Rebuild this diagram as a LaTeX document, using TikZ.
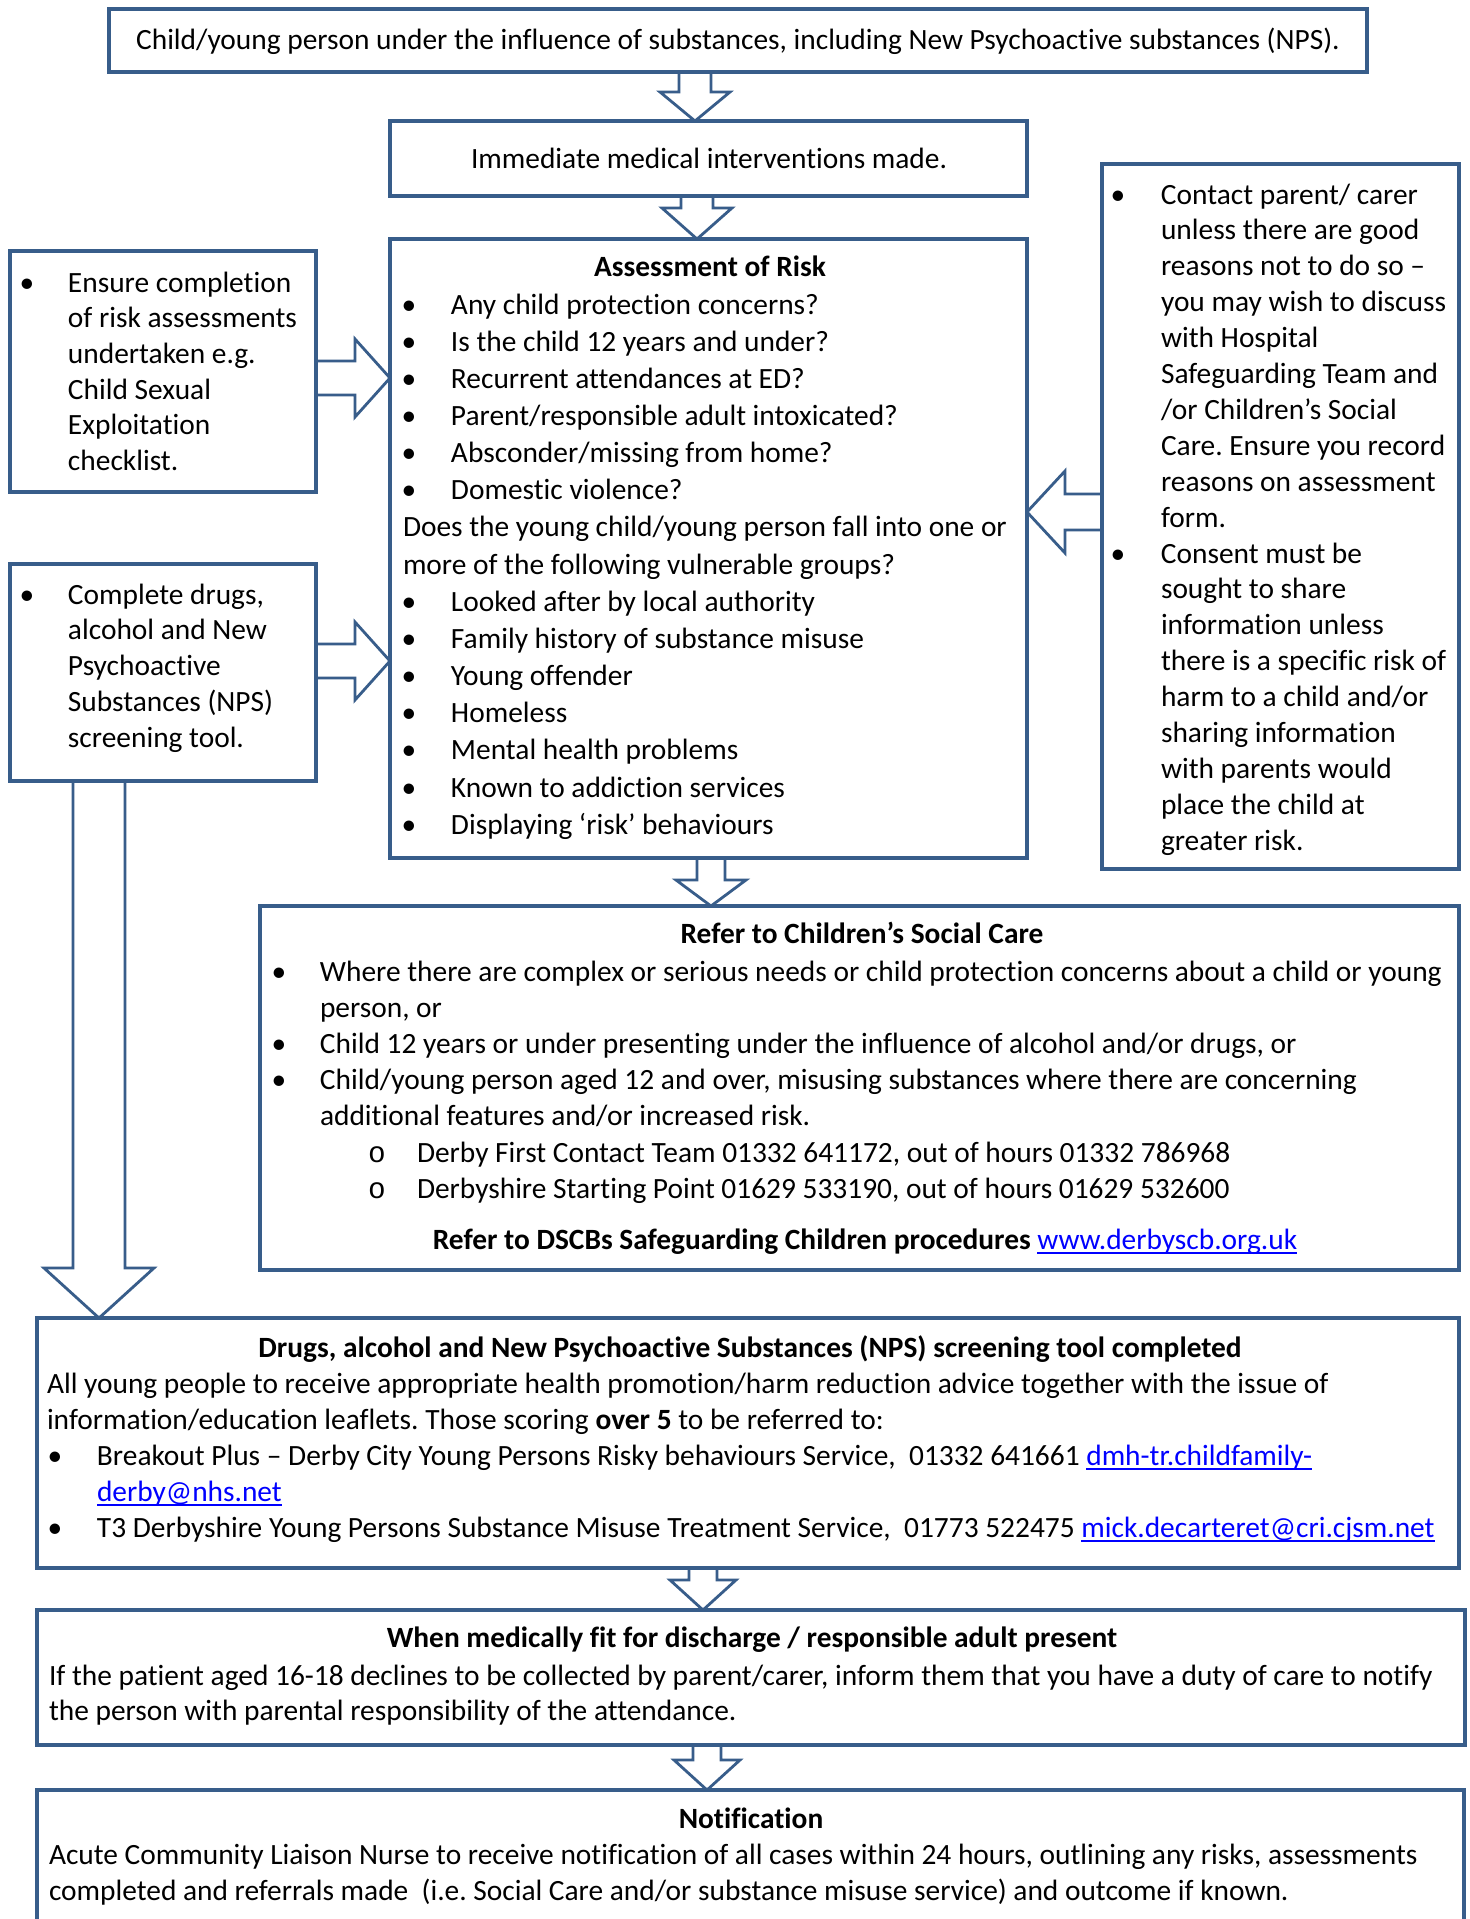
\documentclass[tikz,border=0pt]{standalone}
\usepackage{fontspec}
\setmainfont{Carlito}[Ligatures=NoCommon]
\newfontfamily\monof{Liberation Mono}
\usetikzlibrary{fit,calc}
\definecolor{bord}{RGB}{56,93,138}
\definecolor{lnk}{RGB}{0,0,255}
\frenchspacing
\newlength\bi
\newlength\bc
\newcommand\fsz{14.7}
\newcommand\bul[1]{\makebox[\bi][l]{\hspace{\bc}\makebox[0pt]{\textbullet}}#1}
\newcommand\cont[1]{\makebox[\bi][l]{}#1}
\newcommand\subl[1]{\makebox[71.5pt][l]{\hspace{51.5pt}\makebox[0pt]{\monof o}}#1}
\newcommand\ulnk[1]{{\color{lnk}\setbox0=\hbox{#1}\rlap{\rule[-2.3pt]{\wd0}{0.8pt}}\box0}}
\newcommand\tlines[2]{\parbox[t]{720pt}{\fontsize{\fsz}{#1}\selectfont\raggedright #2}}
\pgfdeclarelayer{bg}
\pgfsetlayers{bg,main}
\tikzset{
  boxn/.style={draw=bord, line width=2pt, fill=white, inner sep=0pt, outer sep=0pt},
  barrow/.style={draw=bord, line width=1.4pt, fill=white, line join=miter},
  txt/.style={anchor=base west, inner sep=0pt, outer sep=0pt, font=\fontsize{\fsz}{18}\selectfont},
  ttl/.style={anchor=base, inner sep=0pt, outer sep=0pt, font=\fontsize{\fsz}{18}\selectfont\bfseries},
}
% down block arrow: src, dst, cx, shaft half, head half, head length (px)
\newcommand\bardown[6]{%
 \draw[barrow] let \p1=(#1.south), \p2=(#2.north), \p3=(#3,0) in
 ({\x3-#4*0.5pt},\y1) -- ({\x3-#4*0.5pt},{\y2+#6*0.5pt}) -- ({\x3-#5*0.5pt},{\y2+#6*0.5pt}) -- (\x3,\y2) -- ({\x3+#5*0.5pt},{\y2+#6*0.5pt}) -- ({\x3+#4*0.5pt},{\y2+#6*0.5pt}) -- ({\x3+#4*0.5pt},\y1);}
\newcommand\barright[6]{%
 \draw[barrow] let \p1=(#1.east), \p2=(#2.west), \p3=(0,#3) in
 (\x1,{\y3+#4*0.5pt}) -- ({\x2-#6*0.5pt},{\y3+#4*0.5pt}) -- ({\x2-#6*0.5pt},{\y3+#5*0.5pt}) -- (\x2,\y3) -- ({\x2-#6*0.5pt},{\y3-#5*0.5pt}) -- ({\x2-#6*0.5pt},{\y3-#4*0.5pt}) -- (\x1,{\y3-#4*0.5pt});}
\newcommand\barleft[6]{%
 \draw[barrow] let \p1=(#1.west), \p2=(#2.east), \p3=(0,#3) in
 (\x1,{\y3+#4*0.5pt}) -- ({\x2+#6*0.5pt},{\y3+#4*0.5pt}) -- ({\x2+#6*0.5pt},{\y3+#5*0.5pt}) -- (\x2,\y3) -- ({\x2+#6*0.5pt},{\y3-#5*0.5pt}) -- ({\x2+#6*0.5pt},{\y3-#4*0.5pt}) -- (\x1,{\y3-#4*0.5pt});}
\begin{document}
\begin{tikzpicture}[x=0.5pt,y=-0.5pt]
\useasboundingbox (0,0) rectangle (1469,1919);
\clip (0,0) rectangle (1469,1919);
\begin{pgfonlayer}{bg}
\fill[white] (0,0) rectangle (1469,1919);
\end{pgfonlayer}
% boxes
\node[boxn, fit={(109,9) (1367,72)}] (b1) {};
\node[boxn, fit={(390,121) (1027,196)}] (b2) {};
\node[boxn, fit={(390,239) (1027,858)}] (b3) {};
\node[boxn, fit={(10,251) (316,492)}] (sa) {};
\node[boxn, fit={(10,564) (316,781)}] (sb) {};
\node[boxn, fit={(1102,164) (1459,869)}] (rb) {};
\node[boxn, fit={(260,906) (1459,1270)}] (csc) {};
\node[boxn, fit={(37,1318) (1459,1568)}] (drg) {};
\node[boxn, fit={(37,1610) (1465,1745)}] (dis) {};
\node[boxn, fit={(37,1790) (1464,1980)}] (ntf) {};
% arrows
\begin{pgfonlayer}{bg}
\bardown{b1}{b2}{695}{16}{35}{29}
\bardown{b2}{b3}{697}{16}{35}{31}
\bardown{b3}{csc}{711}{14}{35}{26}
\bardown{sb}{drg}{99}{26}{55}{50}
\bardown{drg}{dis}{703}{14}{33}{30}
\bardown{dis}{ntf}{707}{14}{33}{30}
\barright{sa}{b3}{378}{17}{39}{35}
\barright{sb}{b3}{661}{17}{39}{35}
\barleft{rb}{b3}{512}{18}{41}{38}
\end{pgfonlayer}
% texts
\node[ttl, font=\fontsize{\fsz}{18}\selectfont] (t1) at (738,49) {Child/young person under the influence of substances, including New Psychoactive substances (NPS).};
\node[ttl, font=\fontsize{\fsz}{18}\selectfont] (t2) at (709,168) {Immediate medical interventions made.};
\node[ttl] (t3h) at (710,276) {Assessment of Risk};
\node[txt] (t3) at (403,314) {\setlength\bi{24pt}\setlength\bc{3pt}\tlines{18.58pt}{%
\bul{Any child protection concerns?}\\
\bul{Is the child 12 years and under?}\\
\bul{Recurrent attendances at ED?}\\
\bul{Parent/responsible adult intoxicated?}\\
\bul{Absconder/missing from home?}\\
\bul{Domestic violence?}\\
Does the young child/young person fall into one or\\
more of the following vulnerable groups?\\
\bul{Looked after by local authority}\\
\bul{Family history of substance misuse}\\
\bul{Young offender}\\
\bul{Homeless}\\
\bul{Mental health problems}\\
\bul{Known to addiction services}\\
\bul{Displaying ‘risk’ behaviours}}};
\node[txt] (ta) at (22,292) {\setlength\bi{23pt}\setlength\bc{2.5pt}\tlines{17.85pt}{%
\bul{Ensure completion}\\
\cont{of risk assessments}\\
\cont{undertaken e.g.}\\
\cont{Child Sexual}\\
\cont{Exploitation}\\
\cont{checklist.}}};
\node[txt] (tb) at (22,604) {\setlength\bi{23pt}\setlength\bc{2.5pt}\tlines{17.9pt}{%
\bul{Complete drugs,}\\
\cont{alcohol and New}\\
\cont{Psychoactive}\\
\cont{Substances (NPS)}\\
\cont{screening tool.}}};
\node[txt] (tr) at (1113,204) {\setlength\bi{24pt}\setlength\bc{2.5pt}\tlines{17.95pt}{%
\bul{Contact parent/ carer}\\
\cont{unless there are good}\\
\cont{reasons not to do so –}\\
\cont{you may wish to discuss}\\
\cont{with Hospital}\\
\cont{Safeguarding Team and}\\
\cont{/or Children’s Social}\\
\cont{Care. Ensure you record}\\
\cont{reasons on assessment}\\
\cont{form.}\\
\bul{Consent must be}\\
\cont{sought to share}\\
\cont{information unless}\\
\cont{there is a specific risk of}\\
\cont{harm to a child and/or}\\
\cont{sharing information}\\
\cont{with parents would}\\
\cont{place the child at}\\
\cont{greater risk.}}};
\node[ttl] (tch) at (862,943) {Refer to Children’s Social Care};
\node[txt] (tc) at (274,981) {\setlength\bi{23pt}\setlength\bc{2.5pt}\tlines{18.1pt}{%
\bul{Where there are complex or serious needs or child protection concerns about a child or young}\\
\cont{person, or}\\
\bul{Child 12 years or under presenting under the influence of alcohol and/or drugs, or}\\
\bul{Child/young person aged 12 and over, misusing substances where there are concerning}\\
\cont{additional features and/or increased risk.}\\
\subl{Derby First Contact Team 01332 641172, out of hours 01332 786968}\\
\subl{Derbyshire Starting Point 01629 533190, out of hours 01629 532600}}};
\node[anchor=base, inner sep=0pt, font=\fontsize{\fsz}{18}\selectfont] (tcr) at (865,1249) {\textbf{Refer to DSCBs Safeguarding Children procedures} \ulnk{www.derbyscb.org.uk}};
\node[ttl] (tdh) at (750,1357) {Drugs, alcohol and New Psychoactive Substances (NPS) screening tool completed};
\node[txt] (td) at (47,1393) {\setlength\bi{25pt}\setlength\bc{4pt}\tlines{18pt}{%
All young people to receive appropriate health promotion/harm reduction advice together with the issue of\\
information/education leaflets. Those scoring \textbf{over 5} to be referred to:\\
\bul{Breakout Plus – Derby City Young Persons Risky behaviours Service,~ 01332 641661 \ulnk{dmh-tr.childfamily-}}\\
\cont{\ulnk{derby@nhs.net}}\\
\bul{T3 Derbyshire Young Persons Substance Misuse Treatment Service,~ 01773 522475 \ulnk{mick.decarteret@cri.cjsm.net}}}};
\node[ttl] (teh) at (752,1647) {When medically fit for discharge / responsible adult present};
\node[txt] (te) at (49,1685) {\tlines{17.6pt}{%
If the patient aged 16-18 declines to be collected by parent/carer, inform them that you have a duty of care to notify\\
the person with parental responsibility of the attendance.}};
\node[ttl] (tfh) at (751,1828) {Notification};
\node[txt] (tf) at (49,1864) {\tlines{18pt}{%
Acute Community Liaison Nurse to receive notification of all cases within 24 hours, outlining any risks, assessments\\
completed and referrals made~ (i.e. Social Care and/or substance misuse service) and outcome if known.}};
\end{tikzpicture}
\end{document}
